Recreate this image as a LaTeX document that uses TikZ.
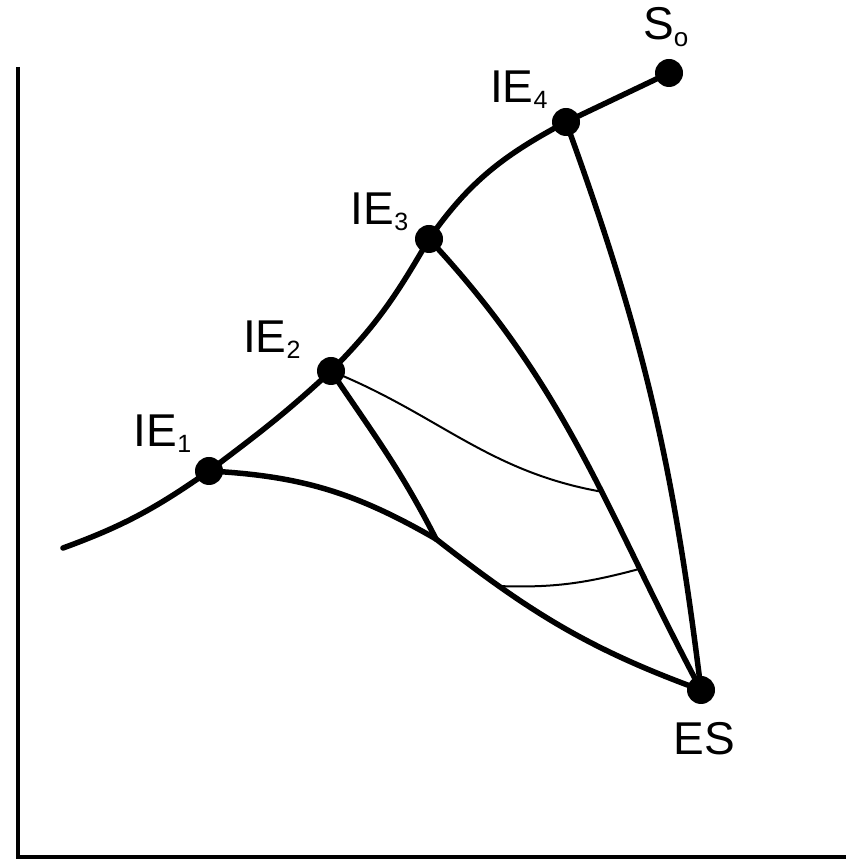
\documentclass[tikz,border=0pt]{standalone}
\usepackage{fontspec}
\setmainfont{Liberation Sans}
\usetikzlibrary{backgrounds}
\tikzset{
  dot/.style={circle, fill=black, inner sep=0pt, minimum size=28pt},
  thickline/.style={line width=5.5pt, line cap=round},
  thinline/.style={line width=2pt},
  axisline/.style={line width=3.5pt},
  lab/.style={anchor=base west, inner sep=0pt, font=\fontsize{46}{50}\selectfont},
}
\newcommand{\subs}[1]{\raisebox{-6pt}{\fontsize{25}{27}\selectfont #1}}
\newcommand{\subo}[1]{\raisebox{-7pt}{\fontsize{26}{28}\selectfont #1}}
\begin{document}
\begin{tikzpicture}[x=1pt,y=1pt]
\useasboundingbox (0,0) rectangle (846,859);
% axes
\coordinate (ytop) at (18,792);
\coordinate (origin) at (18,2);
\coordinate (xend) at (846,2);
\draw[axisline] (ytop) -- (origin) -- (xend);
% points
\node[dot] (S0) at (669,786) {};
\node[dot] (IE4) at (566,737) {};
\node[dot] (IE3) at (429,620) {};
\node[dot] (IE2) at (331,488) {};
\node[dot] (IE1) at (209,388) {};
\node[dot] (ES) at (701,169) {};
\coordinate (start) at (63,311);
\coordinate (M) at (436,320);
% labels
\node[lab] (lIE1) at (133.7,412) {IE\subs{1}};
\node[lab] (lIE2) at (243,506) {IE\subs{2}};
\node[lab] (lIE3) at (350.7,634) {IE\subs{3}};
\node[lab] (lIE4) at (490,756) {IE\subs{4}};
\node[lab] (lS0) at (643,819) {S\subo{o}};
\node[lab] (lES) at (673.4,104) {ES};
\begin{pgfonlayer}{background}
\draw[thickline] (start) to[out=20,in=215] (IE1.center)
  to[out=37,in=223] (IE2.center)
  to[out=45,in=240] (IE3.center)
  to[out=55,in=208] (IE4.center) -- (S0.center);
\draw[thickline] (IE4.center) to[out=-70,in=97] (ES.center);
\draw[thickline] (IE3.center) to[out=-47,in=118] coordinate[pos=0.59] (P) coordinate[pos=0.76] (R) (ES.center);
\draw[thickline] (IE1.center) to[out=-3,in=150] (M);
\draw[thickline] (IE2.center) to[out=-56,in=117] (M);
\draw[thickline] (M) to[out=-38,in=160] coordinate[pos=0.24] (Q) (ES.center);
\draw[thinline] (IE2.center) to[out=-22,in=170] (P);
\draw[thinline] (Q) to[out=-2,in=195] (R);
\end{pgfonlayer}
\end{tikzpicture}
\end{document}
